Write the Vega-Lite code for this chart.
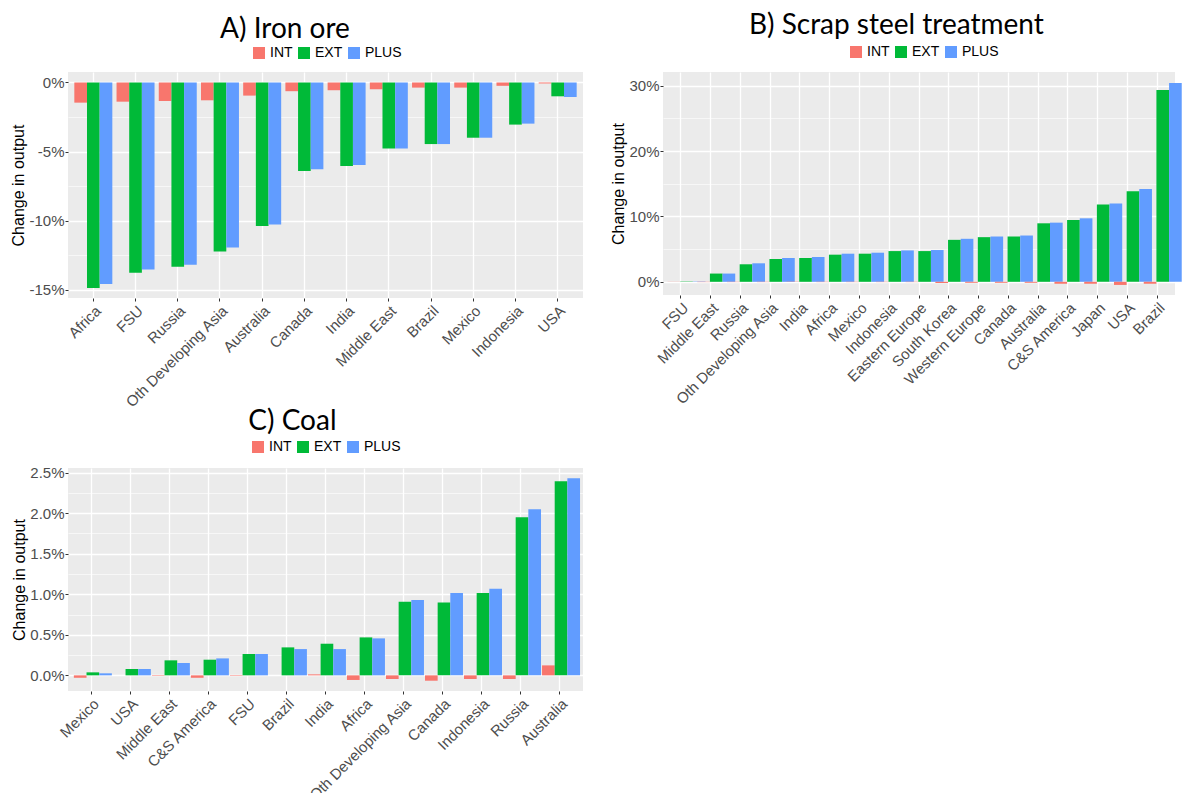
{
  "$schema": "https://vega.github.io/schema/vega-lite/v6.json",
  "background": "white",
  "padding": {"left": 10, "top": 12, "right": 0, "bottom": 0},
  "datasets": {
    "iron": [
      {"region": "Africa", "INT": -1.46, "EXT": -14.88, "PLUS": -14.59},
      {"region": "FSU", "INT": -1.39, "EXT": -13.78, "PLUS": -13.54},
      {"region": "Russia", "INT": -1.34, "EXT": -13.34, "PLUS": -13.2},
      {"region": "Oth Developing Asia", "INT": -1.29, "EXT": -12.24, "PLUS": -11.95},
      {"region": "Australia", "INT": -0.95, "EXT": -10.39, "PLUS": -10.29},
      {"region": "Canada", "INT": -0.63, "EXT": -6.41, "PLUS": -6.29},
      {"region": "India", "INT": -0.56, "EXT": -6.05, "PLUS": -5.98},
      {"region": "Middle East", "INT": -0.49, "EXT": -4.78, "PLUS": -4.78},
      {"region": "Brazil", "INT": -0.37, "EXT": -4.46, "PLUS": -4.46},
      {"region": "Mexico", "INT": -0.37, "EXT": -4.0, "PLUS": -4.0},
      {"region": "Indonesia", "INT": -0.24, "EXT": -3.05, "PLUS": -2.98},
      {"region": "USA", "INT": -0.07, "EXT": -1.0, "PLUS": -1.05}
    ],
    "scrap": [
      {"region": "FSU", "INT": -0.02, "EXT": 0.05, "PLUS": 0.05},
      {"region": "Middle East", "INT": -0.05, "EXT": 1.26, "PLUS": 1.26},
      {"region": "Russia", "INT": -0.05, "EXT": 2.68, "PLUS": 2.83},
      {"region": "Oth Developing Asia", "INT": -0.05, "EXT": 3.49, "PLUS": 3.64},
      {"region": "India", "INT": -0.05, "EXT": 3.64, "PLUS": 3.79},
      {"region": "Africa", "INT": -0.05, "EXT": 4.15, "PLUS": 4.3},
      {"region": "Mexico", "INT": -0.05, "EXT": 4.3, "PLUS": 4.45},
      {"region": "Indonesia", "INT": -0.05, "EXT": 4.7, "PLUS": 4.8},
      {"region": "Eastern Europe", "INT": -0.05, "EXT": 4.7, "PLUS": 4.86},
      {"region": "South Korea", "INT": -0.18, "EXT": 6.42, "PLUS": 6.58},
      {"region": "Western Europe", "INT": -0.15, "EXT": 6.83, "PLUS": 6.93},
      {"region": "Canada", "INT": -0.15, "EXT": 6.93, "PLUS": 7.08},
      {"region": "Australia", "INT": -0.15, "EXT": 8.95, "PLUS": 9.05},
      {"region": "C&S America", "INT": -0.3, "EXT": 9.46, "PLUS": 9.71},
      {"region": "Japan", "INT": -0.3, "EXT": 11.84, "PLUS": 11.99},
      {"region": "USA", "INT": -0.48, "EXT": 13.86, "PLUS": 14.21},
      {"region": "Brazil", "INT": -0.3, "EXT": 29.34, "PLUS": 30.4}
    ],
    "coal": [
      {"region": "Mexico", "INT": -0.03, "EXT": 0.037, "PLUS": 0.025},
      {"region": "USA", "INT": 0.0, "EXT": 0.078, "PLUS": 0.078},
      {"region": "Middle East", "INT": -0.006, "EXT": 0.185, "PLUS": 0.152},
      {"region": "C&S America", "INT": -0.03, "EXT": 0.193, "PLUS": 0.209},
      {"region": "FSU", "INT": -0.006, "EXT": 0.263, "PLUS": 0.263},
      {"region": "Brazil", "INT": 0.0, "EXT": 0.345, "PLUS": 0.324},
      {"region": "India", "INT": 0.012, "EXT": 0.39, "PLUS": 0.324},
      {"region": "Africa", "INT": -0.057, "EXT": 0.468, "PLUS": 0.456},
      {"region": "Oth Developing Asia", "INT": -0.045, "EXT": 0.907, "PLUS": 0.928},
      {"region": "Canada", "INT": -0.066, "EXT": 0.899, "PLUS": 1.014},
      {"region": "Indonesia", "INT": -0.045, "EXT": 1.014, "PLUS": 1.067},
      {"region": "Russia", "INT": -0.045, "EXT": 1.95, "PLUS": 2.048},
      {"region": "Australia", "INT": 0.123, "EXT": 2.393, "PLUS": 2.43}
    ]
  },
  "config": {
    "view": {"fill": "#EBEBEB", "stroke": null},
    "font": "Liberation Sans, Arial, sans-serif",
    "axis": {
      "domain": false,
      "grid": true,
      "gridColor": "#FFFFFF",
      "labelColor": "#4D4D4D",
      "labelFontSize": 15,
      "labelFont": "Liberation Sans, Arial, sans-serif",
      "tickColor": "#333333",
      "tickSize": 3,
      "tickWidth": 1,
      "titleFont": "Liberation Sans, Arial, sans-serif",
      "titleFontSize": 16,
      "titleFontWeight": "normal",
      "titleColor": "#000000"
    },
    "axisX": {
      "gridWidth": 1.3,
      "labelAngle": -45,
      "labelAlign": "right",
      "labelBaseline": "top",
      "labelPadding": 2,
      "bandPosition": 0.5
    },
    "axisY": {"labelPadding": 1, "titlePadding": 2},
    "legend": {
      "symbolType": "square",
      "symbolSize": 144,
      "symbolStrokeWidth": 0,
      "labelFontSize": 14,
      "labelFont": "Liberation Sans, Arial, sans-serif",
      "labelColor": "#000000",
      "labelOffset": 4,
      "columnPadding": 4,
      "padding": 0
    },
    "title": {
      "font": "Lato",
      "fontSize": 28,
      "fontWeight": "normal",
      "color": "#000000",
      "anchor": "middle",
      "frame": "bounds"
    }
  },
  "resolve": {"scale": {"color": "independent"}, "legend": {"color": "independent"}},
  "spacing": -3,
  "vconcat": [
    {
      "spacing": 27,
      "resolve": {"scale": {"color": "independent"}, "legend": {"color": "independent"}},
      "hconcat": [
        {
          "width": 515,
          "height": 226,
          "title": {"text": "A) Iron ore", "offset": 2, "dx": -12},
          "data": {"name": "iron"},
          "transform": [{"fold": ["INT", "EXT", "PLUS"], "as": ["scenario", "value"]}],
          "mark": {"type": "bar"},
          "encoding": {
            "x": {
              "field": "region", "type": "nominal", "title": null,
              "sort": ["Africa", "FSU", "Russia", "Oth Developing Asia", "Australia", "Canada", "India", "Middle East", "Brazil", "Mexico", "Indonesia", "USA"],
              "scale": {"paddingInner": 0.1, "paddingOuter": 0.15}
            },
            "xOffset": {"field": "scenario", "type": "nominal", "sort": ["INT", "EXT", "PLUS"], "scale": {"paddingInner": 0, "paddingOuter": 0}},
            "y": {
              "field": "value", "type": "quantitative", "title": "Change in output",
              "scale": {"domain": [-15.61, 0.76], "nice": false, "zero": false},
              "axis": {
                "values": [-15, -12.5, -10, -7.5, -5, -2.5, 0],
                "labelExpr": "datum.value % 5 === 0 ? datum.value + '%' : ''",
                "tickOpacity": {"condition": {"test": "datum.value % 5 !== 0", "value": 0}, "value": 1},
                "gridWidth": {"condition": {"test": "datum.value % 5 !== 0", "value": 0.6}, "value": 1.3}
              }
            },
            "color": {
              "field": "scenario", "type": "nominal",
              "scale": {"domain": ["INT", "EXT", "PLUS"], "range": ["#F8766D", "#00BA38", "#619CFF"]},
              "legend": {"orient": "none", "direction": "horizontal", "title": null, "legendX": 184, "legendY": -26}
            }
          }
        },
        {
          "width": 512,
          "height": 223,
          "title": {"text": "B) Scrap steel treatment", "offset": 5},
          "data": {"name": "scrap"},
          "transform": [{"fold": ["INT", "EXT", "PLUS"], "as": ["scenario", "value"]}],
          "mark": {"type": "bar"},
          "encoding": {
            "x": {
              "field": "region", "type": "nominal", "title": null,
              "sort": ["FSU", "Middle East", "Russia", "Oth Developing Asia", "India", "Africa", "Mexico", "Indonesia", "Eastern Europe", "South Korea", "Western Europe", "Canada", "Australia", "C&S America", "Japan", "USA", "Brazil"],
              "scale": {"paddingInner": 0.1, "paddingOuter": 0.15}
            },
            "xOffset": {"field": "scenario", "type": "nominal", "sort": ["INT", "EXT", "PLUS"], "scale": {"paddingInner": 0, "paddingOuter": 0}},
            "y": {
              "field": "value", "type": "quantitative", "title": "Change in output",
              "scale": {"domain": [-2.02, 32.1], "nice": false, "zero": false},
              "axis": {
                "values": [0, 5, 10, 15, 20, 25, 30],
                "labelExpr": "datum.value % 10 === 0 ? datum.value + '%' : ''",
                "tickOpacity": {"condition": {"test": "datum.value % 10 !== 0", "value": 0}, "value": 1},
                "gridWidth": {"condition": {"test": "datum.value % 10 !== 0", "value": 0.6}, "value": 1.3}
              }
            },
            "color": {
              "field": "scenario", "type": "nominal",
              "scale": {"domain": ["INT", "EXT", "PLUS"], "range": ["#F8766D", "#00BA38", "#619CFF"]},
              "legend": {"orient": "none", "direction": "horizontal", "title": null, "legendX": 186, "legendY": -27}
            }
          }
        }
      ]
    },
    {
      "width": 515,
      "height": 223,
      "title": {"text": "C) Coal", "offset": 4, "dx": -5},
      "data": {"name": "coal"},
      "transform": [{"fold": ["INT", "EXT", "PLUS"], "as": ["scenario", "value"]}],
      "mark": {"type": "bar"},
      "encoding": {
        "x": {
          "field": "region", "type": "nominal", "title": null,
          "sort": ["Mexico", "USA", "Middle East", "C&S America", "FSU", "Brazil", "India", "Africa", "Oth Developing Asia", "Canada", "Indonesia", "Russia", "Australia"],
          "scale": {"paddingInner": 0.1, "paddingOuter": 0.15}
        },
        "xOffset": {"field": "scenario", "type": "nominal", "sort": ["INT", "EXT", "PLUS"], "scale": {"paddingInner": 0, "paddingOuter": 0}},
        "y": {
          "field": "value", "type": "quantitative", "title": "Change in output",
          "scale": {"domain": [-0.193, 2.557], "nice": false, "zero": false},
          "axis": {
            "values": [0, 0.25, 0.5, 0.75, 1, 1.25, 1.5, 1.75, 2, 2.25, 2.5],
            "labelExpr": "abs(datum.value * 2 - round(datum.value * 2)) < 0.001 ? format(datum.value, '.1f') + '%' : ''",
            "tickOpacity": {"condition": {"test": "abs(datum.value * 2 - round(datum.value * 2)) > 0.001", "value": 0}, "value": 1},
            "gridWidth": {"condition": {"test": "abs(datum.value * 2 - round(datum.value * 2)) > 0.001", "value": 0.6}, "value": 1.3}
          }
        },
        "color": {
          "field": "scenario", "type": "nominal",
          "scale": {"domain": ["INT", "EXT", "PLUS"], "range": ["#F8766D", "#00BA38", "#619CFF"]},
          "legend": {"orient": "none", "direction": "horizontal", "title": null, "legendX": 183, "legendY": -28}
        }
      }
    }
  ]
}
